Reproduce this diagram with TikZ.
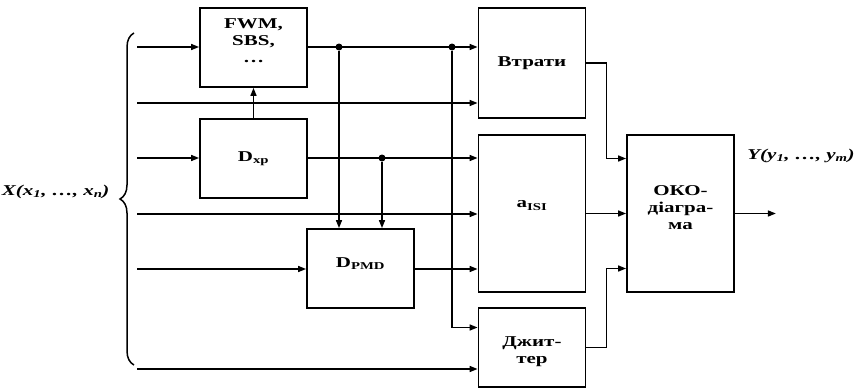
\documentclass[tikz,border=0pt]{standalone}
\usepackage{fontspec}
\setmainfont{Liberation Serif}[
    FakeStretch=1.4,
    UprightFont=*, BoldFont=* Bold,
    ItalicFont=* Italic, BoldItalicFont=* Bold Italic,
]
\usetikzlibrary{arrows.meta, positioning, calc, decorations.pathreplacing}

\begin{document}
\begin{tikzpicture}[
    x=1pt, y=-1pt,
    font=\fontsize{15}{17}\selectfont\bfseries,
    wire/.style={line width=1.5pt},
    arr/.style={
        -{Triangle[length=8pt, width=6pt]},
        line width=1.5pt,
    },
    blk/.style={
        rectangle, draw, line width=1.8pt,
        minimum width=107pt, minimum height=79pt, inner sep=0pt,
    },
    blktxt/.style={align=center, inner sep=0pt},
    junc/.style={circle, fill, inner sep=0pt, minimum size=7pt},
    sig/.style={font=\fontsize{15}{17}\selectfont\bfseries\itshape},
]
\useasboundingbox (0,0) rectangle (855,388);

% -- Blocks --
\node[blk] (fwm) at (253.5,47.5) {};
\node[blk] (dxp) at (253.5,158.5) {};
\node[blk] (dpmd) at (360.5,268.5) {};
\node[blk, minimum height=110pt] (loss) at (532,63) {};
\node[blk, minimum height=157pt] (aisi) at (532,213.5) {};
\node[blk] (jitter) at (532,347.5) {};
\node[blk, minimum height=157pt] (eye) at (680.5,213.5) {};

% -- Block texts --
\node[blktxt] (fwmlbl) at ([yshift=7pt]fwm.center) {FWM,\\SBS,\\…};
\node[blktxt] (dxplbl) at (dxp.center) {D\textsubscript{хр}};
\node[blktxt] (dpmdlbl) at ([yshift=5pt]dpmd.center) {D\textsubscript{PMD}};
\node[blktxt] (losslbl) at (loss.center) {Втрати};
\node[blktxt] (aisilbl) at ([yshift=8pt]aisi.center) {a\textsubscript{ISI}};
\node[blktxt] (eyelbl) at ([yshift=6pt]eye.center) {ОКО-\\діагра-\\ма};
\node[blktxt] (jitterlbl) at ([yshift=-4pt]jitter.center) {Джит-\\тер};

% -- Input signals --
\node[sig, anchor=east] (xin) at (113,192) {X(x\textsubscript{1}, …, x\textsubscript{n})};
\draw[wire, decorate, decoration={brace, amplitude=14pt}] (134,365) -- (134,33);
\foreach \i/\yy in {1/47, 2/103, 3/158, 4/214, 5/269, 6/369}
    \coordinate (in\i) at (137,\yy);

\draw[arr] (in1) -- (in1 -| fwm.west);
\draw[arr] (in2) -- (in2 -| loss.west);
\draw[arr] (in3) -- (in3 -| dxp.west);
\draw[arr] (in4) -- (in4 -| aisi.west);
\draw[arr] (in5) -- (in5 -| dpmd.west);
\draw[arr] (in6) -- (in6 -| jitter.west);

% -- Internal links --
\draw[arr] (dxp.north) -- (fwm.south);
\draw[arr] (in1 -| fwm.east) -- (in1 -| loss.west);
\draw[arr] (in3 -| dxp.east) -- (in3 -| aisi.west);
\draw[arr] (in5 -| dpmd.east) -- (in5 -| aisi.west);

\node[junc] (j1) at (339,47) {};
\node[junc] (j2) at (452,47) {};
\node[junc] (j3) at (382,158) {};
\draw[arr] (j1) -- (j1 |- dpmd.north);
\draw[arr] (j3) -- (j3 |- dpmd.north);
\draw[arr] (j2) |- ([yshift=20pt]jitter.west);

% -- Into the eye diagram --
\draw[arr] (loss.east) -- ++(20,0) |- ([yshift=55pt]eye.west);
\draw[arr] (aisi.east) -- (eye.west);
\draw[arr] (jitter.east) -- ++(20,0) |- ([yshift=-55pt]eye.west);

% -- Output --
\draw[arr] (eye.east) -- ++(41,0);
\node[sig] (yout) at (801,156) {Y(y\textsubscript{1}, …, y\textsubscript{m})};

\end{tikzpicture}
\end{document}
